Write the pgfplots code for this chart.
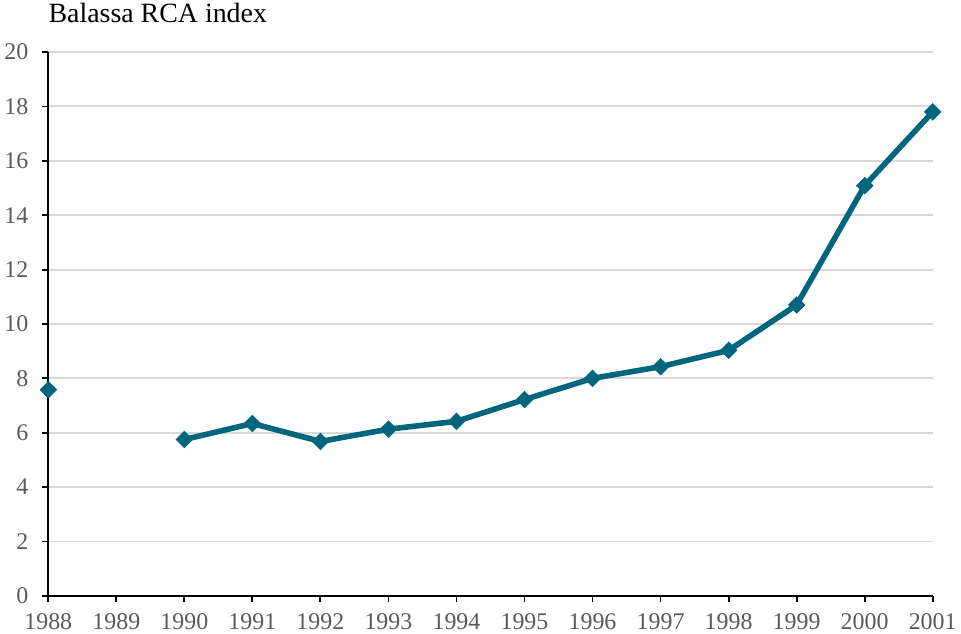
\documentclass[border=0pt]{standalone}
\usepackage{fontspec}
\setmainfont{Liberation Serif}
\usepackage{pgfplots}
\pgfplotsset{compat=1.18}
\definecolor{rcateal}{HTML}{00667E}
\definecolor{ticklab}{HTML}{595959}
\definecolor{gridgray}{HTML}{D9D9D9}

\begin{document}
\begin{tikzpicture}
\begin{axis}[
  scale only axis,
  width=666pt, height=409.5pt,
  xmin=1988, xmax=2001,
  ymin=0, ymax=20,
  xtick={1988,...,2001},
  ytick={0,2,...,20},
  axis lines=left,
  axis line style={black, line width=1.4pt, -},
  tick style={black, line width=1.4pt},
  tick align=outside,
  major tick length=4.5pt,
  ymajorgrids=true,
  major grid style={gridgray, line width=1.5pt},
  tick label style={font=\fontsize{18}{21}\selectfont, text=ticklab},
  /pgf/number format/assume math mode=true,
  /pgf/number format/1000 sep={},
  xticklabel style={yshift=-5pt},
  yticklabel style={xshift=-7pt},
  unbounded coords=jump,
  clip=false,
]
\addplot[rcateal, line width=4.2pt, mark=square*, mark size=4.4pt,
  mark options={line width=0.5pt, fill=rcateal, rotate=45}] coordinates {
  (1988,7.58) (1989,nan) (1990,5.75) (1991,6.34) (1992,5.68) (1993,6.13)
  (1994,6.42) (1995,7.22) (1996,8.00) (1997,8.43) (1998,9.03)
  (1999,10.70) (2000,15.09) (2001,17.80)
};
\node[anchor=south west, inner sep=0pt, font=\fontsize{21}{24}\selectfont]
  at ([yshift=15pt]rel axis cs:0,1) {\strut Balassa RCA index};
\end{axis}
\end{tikzpicture}
\end{document}
